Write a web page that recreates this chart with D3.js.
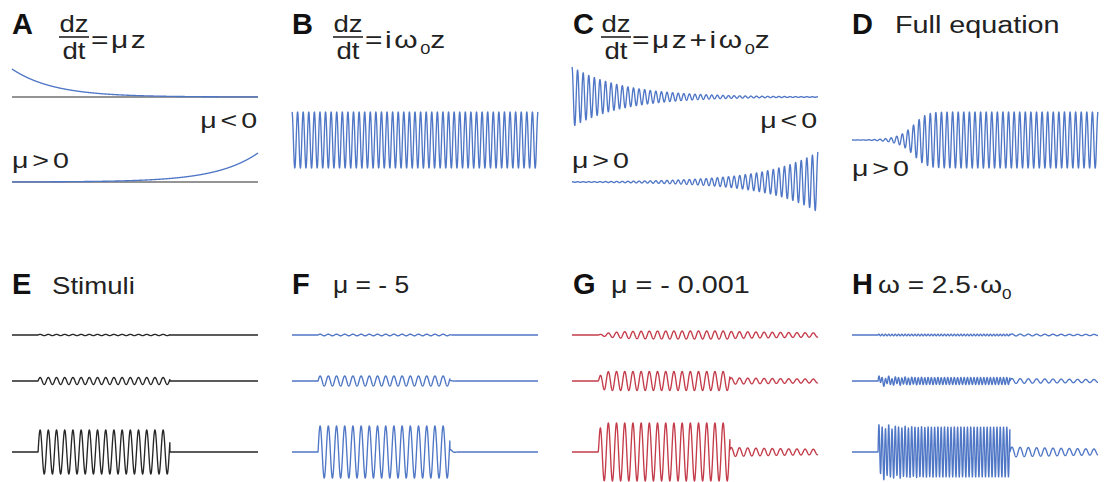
<!DOCTYPE html>
<title>Hopf oscillator panels</title>
<meta charset="utf-8">
<style>
    body { margin: 0; background: #fff; }
    svg { display: block; font-family: "Liberation Sans", Arial, sans-serif; }
    .trace { fill: none; stroke-width: 1.35; stroke-linejoin: round; }
    .letter { font-weight: bold; font-size: 29px; fill: #111; }
    .head { font-size: 23px; fill: #222; }
    .lab { font-size: 22px; fill: #222; letter-spacing: 3px; }
    .eq { letter-spacing: 2px; }
    .eq .sub { letter-spacing: 0; }
</style>
<svg width="1105" height="482"></svg>
<script src="https://d3js.org/d3.v7.min.js"></script>
<script>

    //begin: data (time runs 0..1 over each trace)
    var letters = ["A", "B", "C", "D", "E", "F", "G", "H"];

    // top row
    var cyclesTop = 44;
    var decayAmp = [28, 29];        // A: start of mu<0, end of mu>0
    var decayTau = 0.17;
    var freeAmp = 28;               // B
    var dampedAmp = [30, 30];       // C: start of mu<0, end of mu>0
    var dampedTau = 0.21;
    var hopfAmp = 28, hopfMid = 0.27, hopfWidth = 0.022;   // D envelope

    // bottom row: three stimulus strengths
    var stimWindow = [0.106, 0.642];
    var cyclesBottom = 30;
    var freqRatioH = 2.5;
    var stimAmpE = [0.6, 3.5, 22];
    var respAmpF = [0.8, 5, 26];
    var respAmpG = [4, 9.5, 29];
    var riseG = [0.06, 0.01, 0.005];
    var tailAmpG = [3.5, 3.2, 4.5];
    var respAmpH = [0.8, 3.5, 25];
    var transH = [0, 2.5, 4];
    var tailAmpH = [1, 2.5, 5];
    //end: data

    //begin: layout conf.
    var svg = d3.select("svg"),
        colX = [12, 292, 572, 852],
        traceW = 246,
        topRows = [97, 140, 182],
        bottomRows = [335, 381, 452],
        blue = "#5077c6",
        red = "#c43c4a",
        ink = "#262626",
        gray = "#707070",
        N = 2400,
        TAU = 2 * Math.PI;
    //end: layout conf.

    var xs = colX.map(function(x0) {
        return d3.scaleLinear().domain([0, 1]).range([x0, x0 + traceW]);
    });
    var ts = d3.range(N + 1).map(function(i) { return i / N; });

    function yScale(cy) {
        return d3.scaleLinear().domain([-30, 30]).range([cy + 30, cy - 30]);
    }

    function drawTrace(col, cy, color, fn) {
        var x = xs[col], y = yScale(cy);
        var line = d3.line()
            .x(function(d) { return x(d[0]); })
            .y(function(d) { return y(d[1]); });
        svg.append("path")
            .attr("class", "trace")
            .attr("stroke", color)
            .attr("d", line(ts.map(function(t) { return [t, fn(t)]; })));
    }

    // A
    drawTrace(0, topRows[0], gray, function() { return 0; });
    drawTrace(0, topRows[2], gray, function() { return 0; });
    drawTrace(0, topRows[0], blue, function(t) { return decayAmp[0] * Math.exp(-t / decayTau); });
    drawTrace(0, topRows[2], blue, function(t) { return decayAmp[1] * Math.exp(-(1 - t) / decayTau); });
    // B
    drawTrace(1, topRows[1], blue, function(t) { return freeAmp * Math.cos(TAU * cyclesTop * t); });
    // C
    drawTrace(2, topRows[0], blue, function(t) {
        return dampedAmp[0] * Math.exp(-t / dampedTau) * Math.cos(TAU * cyclesTop * t);
    });
    drawTrace(2, topRows[2], blue, function(t) {
        return dampedAmp[1] * Math.exp(-(1 - t) / dampedTau) * Math.cos(TAU * cyclesTop * t);
    });
    // D
    drawTrace(3, topRows[1], blue, function(t) {
        var r = hopfAmp / Math.sqrt(1 + Math.exp(-(t - hopfMid) / hopfWidth));
        return r * Math.cos(TAU * cyclesTop * t);
    });

    // bottom row
    var on = stimWindow[0], off = stimWindow[1];
    function during(t) { return t >= on && t <= off; }

    bottomRows.forEach(function(cy, k) {
        // E stimuli
        drawTrace(0, cy, ink, function(t) {
            return during(t) ? stimAmpE[k] * Math.sin(TAU * cyclesBottom * (t - on)) : 0;
        });
        // F strongly damped
        drawTrace(1, cy, blue, function(t) {
            if (during(t)) return respAmpF[k] * Math.sin(TAU * cyclesBottom * (t - on));
            if (t > off) return respAmpF[k] * 0.15 * Math.exp(-(t - off) / 0.008) * Math.sin(TAU * cyclesBottom * (t - off) + 0.5);
            return 0;
        });
        // G weakly damped
        drawTrace(2, cy, red, function(t) {
            if (during(t)) return respAmpG[k] * (1 - Math.exp(-(t - on) / riseG[k])) * Math.sin(TAU * cyclesBottom * (t - on));
            if (t > off) return tailAmpG[k] * Math.exp(-(t - off) / 0.7) * Math.sin(TAU * cyclesBottom * (t - on));
            return 0;
        });
        // H off-resonance
        drawTrace(3, cy, blue, function(t) {
            if (during(t)) {
                return respAmpH[k] * Math.sin(TAU * cyclesBottom * freqRatioH * (t - on))
                    + transH[k] * Math.exp(-(t - on) / 0.08) * Math.sin(TAU * cyclesBottom * (t - on));
            }
            if (t > off) return tailAmpH[k] * Math.exp(-(t - off) / 0.7) * Math.sin(TAU * cyclesBottom * (t - off));
            return 0;
        });
    });

    /////////////////////
    //  text and labels //
    /////////////////////

    function addText(x, y, cls, sx, anchor) {
        return svg.append("text")
            .attr("class", cls)
            .attr("text-anchor", anchor || "start")
            .attr("transform", "translate(" + x + "," + y + ") scale(" + sx + ",1)");
    }

    // pieces: [string, isSubscript, backUp]
    function addRich(x, y, cls, sx, pieces, anchor) {
        var t = addText(x, y, cls, sx, anchor);
        pieces.forEach(function(p) {
            var s = t.append("tspan").text(p[0]);
            if (p[1]) s.attr("class", "sub").attr("font-size", "14px").attr("dy", 6);
            else if (p[2]) s.attr("dy", -6);
        });
        return t;
    }

    function fraction(cx) {
        addText(cx, 32, "head", 1.2, "middle").text("dz");
        addText(cx, 59, "head", 1.2, "middle").text("dt");
        svg.append("line")
            .attr("x1", cx - 15).attr("x2", cx + 15)
            .attr("y1", 37).attr("y2", 37)
            .attr("stroke", "#222").attr("stroke-width", 1.6);
    }

    var letterPos = [[12, 34], [292, 34], [573, 34], [852, 34], [12, 294], [292, 294], [573, 294], [852, 294]];
    letters.forEach(function(l, i) {
        addText(letterPos[i][0], letterPos[i][1], "letter", 1.0).text(l);
    });

    fraction(74);
    addRich(91, 48, "head eq", 1.3, [["=\u03bcz"]]);
    fraction(348);
    addRich(365, 48, "head eq", 1.3, [["=i\u03c9"], ["0", true], ["z", false, true]]);
    fraction(616);
    addRich(632, 48, "head eq", 1.3, [["=\u03bcz+i\u03c9"], ["0", true], ["z", false, true]]);
    addText(895, 33, "head", 1.25).text("Full equation");

    addText(52, 294, "head", 1.2).text("Stimuli");
    addText(333, 293, "head", 1.15).text("\u03bc = - 5");
    addText(611, 293, "head", 1.25).text("\u03bc = - 0.001");
    addRich(878, 293, "head", 1.22, [["\u03c9 = 2.5\u00b7\u03c9"], ["0", true]]);

    addText(261, 128, "lab", 1.3, "end").text("\u03bc<0");
    addText(12, 168, "lab", 1.3).text("\u03bc>0");
    addText(821, 128, "lab", 1.3, "end").text("\u03bc<0");
    addText(572, 168, "lab", 1.3).text("\u03bc>0");
    addText(852, 176, "lab", 1.3).text("\u03bc>0");

</script>
